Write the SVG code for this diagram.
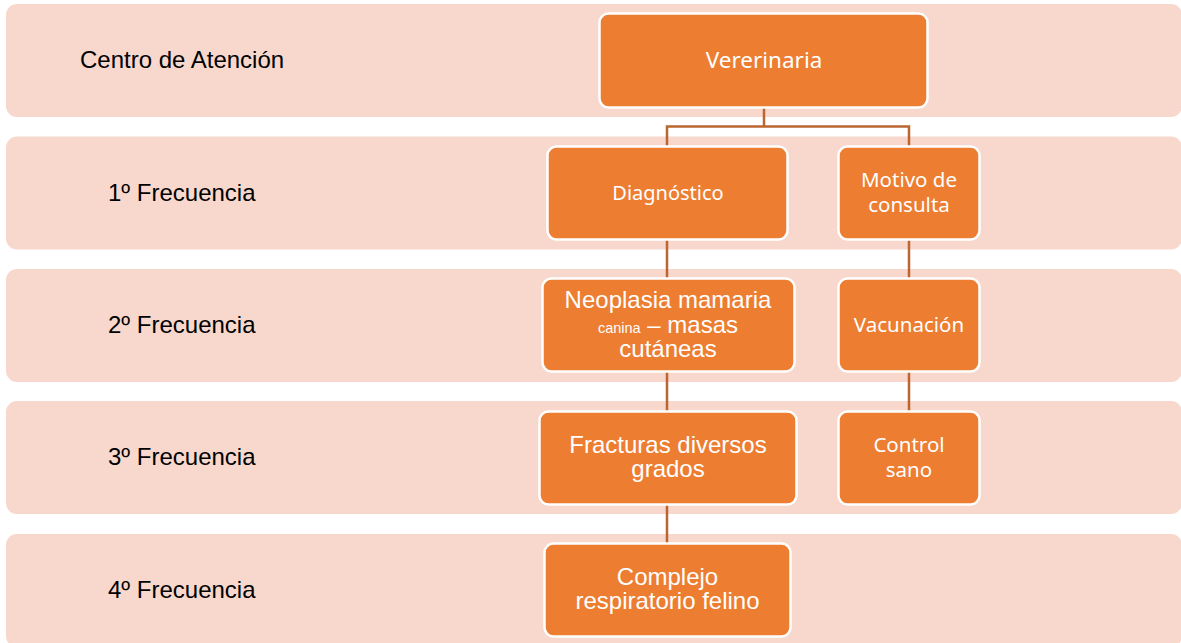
<svg xmlns="http://www.w3.org/2000/svg" width="1181" height="643" viewBox="0 0 1181 643">
<style>
.band{fill:#F8D8CD;}
.lbl{font-family:"Liberation Sans",Arial,sans-serif;font-size:24px;fill:#000;}
.node{fill:#ED7D31;stroke:#FFFFFF;stroke-width:2.5;}
.tc{font-family:"Noto Sans","Open Sans",sans-serif;font-size:20.5px;fill:#FFFFFF;text-anchor:middle;}
.ta{font-family:"Liberation Sans",Arial,sans-serif;font-size:24px;fill:#FFFFFF;text-anchor:middle;}
.conn{fill:none;stroke:#BB6530;stroke-width:2.5;}
</style>
<g id="bands">
<rect class="band" x="6" y="4" width="1176" height="113" rx="11"/>
<rect class="band" x="6" y="136.5" width="1176" height="113" rx="11"/>
<rect class="band" x="6" y="269" width="1176" height="113" rx="11"/>
<rect class="band" x="6" y="401" width="1176" height="113" rx="11"/>
<rect class="band" x="6" y="534" width="1176" height="113" rx="11"/>
</g>
<g id="labels">
<text class="lbl" x="80" y="68">Centro de Atención</text>
<text class="lbl" x="108" y="201">1º Frecuencia</text>
<text class="lbl" x="108" y="333">2º Frecuencia</text>
<text class="lbl" x="108" y="465">3º Frecuencia</text>
<text class="lbl" x="108" y="598">4º Frecuencia</text>
</g>
<g id="connectors">
<path class="conn" d="M764,107 V126.5 M667,126.5 H909 M667,125.3 V146 M909,125.3 V146"/>
<path class="conn" d="M667,240 V279 M667,372 V411 M667,505 V543"/>
<path class="conn" d="M909,240 V279 M909,372 V411"/>
</g>
<g id="n-vererinaria">
<rect class="node" x="599.5" y="13.5" width="328" height="94" rx="9"/>
<text class="tc" x="764" y="68" style="font-size:22.5px">Vererinaria</text>
</g>
<g id="n-diagnostico">
<rect class="node" x="547.5" y="146.5" width="240" height="93" rx="9"/>
<text class="tc" x="668" y="200" style="font-size:20px">Diagnóstico</text>
</g>
<g id="n-motivo">
<rect class="node" x="838.5" y="146.5" width="141" height="93" rx="9"/>
<text class="tc" x="909" y="187">Motivo de</text>
<text class="tc" x="909" y="212">consulta</text>
</g>
<g id="n-neoplasia">
<rect class="node" x="542.5" y="278.5" width="252" height="93" rx="9"/>
<text class="ta" x="668" y="308">Neoplasia mamaria</text>
<text class="ta" x="668" y="333"><tspan style="font-size:14.5px">canina</tspan> – masas</text>
<text class="ta" x="668" y="357">cutáneas</text>
</g>
<g id="n-vacunacion">
<rect class="node" x="838.5" y="278.5" width="141" height="93" rx="9"/>
<text class="tc" x="909" y="332">Vacunación</text>
</g>
<g id="n-fracturas">
<rect class="node" x="539.5" y="411.5" width="257" height="93" rx="9"/>
<text class="ta" x="668" y="453">Fracturas diversos</text>
<text class="ta" x="668" y="477">grados</text>
</g>
<g id="n-control">
<rect class="node" x="838.5" y="411.5" width="141" height="93" rx="9"/>
<text class="tc" x="909" y="452">Control</text>
<text class="tc" x="909" y="477">sano</text>
</g>
<g id="n-complejo">
<rect class="node" x="544.5" y="543.5" width="246" height="93" rx="9"/>
<text class="ta" x="667.5" y="585">Complejo</text>
<text class="ta" x="667.5" y="609">respiratorio felino</text>
</g>
</svg>
